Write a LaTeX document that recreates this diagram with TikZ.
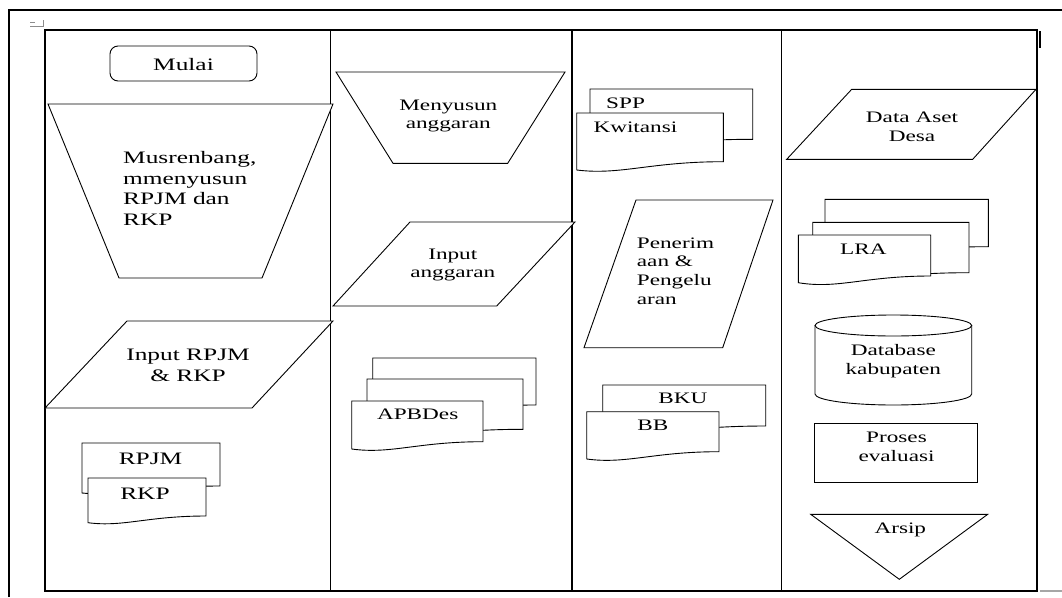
\documentclass[tikz,border=0pt]{standalone}
\usepackage{fontspec}
\setmainfont{Liberation Serif}[FakeStretch=1.45]
\newcommand\mydoc[6]{% x1 y0 x2 yR yL ymin
  \draw[shp] (#1,#2) -- (#3,#2) -- (#3,#4)
    .. controls ({#1+0.5*(#3-#1)},#4) and ({#1+0.3*(#3-#1)},{#5+2*(#6-#5)}) .. (#1,#5) -- cycle;}
\tikzset{
  shp/.style={draw=black, line width=0.9pt, fill=white, line join=miter},
  tbl/.style={draw=black, line width=1.2pt},
  frame/.style={draw=black, line width=2pt},
  lbl/.style={inner sep=0pt, font=\fontsize{16}{18.6}\selectfont, align=center},
  lblA/.style={inner sep=0pt, font=\fontsize{17.5}{20.5}\selectfont, align=center}
}
\begin{document}
\begin{tikzpicture}[x=1pt,y=-1pt]
\useasboundingbox (0,0) rectangle (1062,597);
% outer frame
\draw[frame] (9,597) -- (9,10) -- (1062,10);
\draw[frame] (1039.5,31) -- (1039.5,48);
\draw[line width=2pt, draw=black!35] (1040,591) -- (1062,591);
\draw[draw=black!45, line width=0.8pt] (30,22.5) -- (35,22.5) (43,20) -- (43,26.5) -- (30,26.5);
% table
\draw[tbl] (45,30) rectangle (1037,591);
\draw[tbl] (330.5,30) -- (330.5,591);
\draw[tbl] (572,30) -- (572,591);
\draw[tbl] (781.5,30) -- (781.5,591);

% ---- column 1
\draw[shp, rounded corners=8pt] (110,46) rectangle (257,81);
\node[lblA, anchor=base] (mulai) at (183.5,70) {Mulai};
\draw[shp] (48,104) -- (333,104) -- (262,278) -- (119,278) -- cycle;
\node[lblA, anchor=west, align=left] (musren) at (123,188.5) {Musrenbang,\\mmenyusun\\RPJM dan\\RKP};
\draw[shp] (127,321) -- (333,321) -- (252,408) -- (45,408) -- cycle;
\node[lblA] (inrpjm) at (188,365.5) {Input RPJM\\\& RKP};
\mydoc{82}{443}{220}{486}{493}{495}
\node[lblA, anchor=base] (rpjm) at (150.5,464.3) {RPJM};
\mydoc{88}{478}{206}{516}{522.7}{525}
\node[lblA, anchor=base] (rkp) at (145,499) {RKP};

% ---- column 2
\draw[shp] (336,72) -- (565,72) -- (507.7,163.3) -- (393,163.3) -- cycle;
\node[lbl] (menyusun) at (448.3,116) {Menyusun\\anggaran};
\draw[shp] (410,222) -- (575,222) -- (496.7,306) -- (333,306) -- cycle;
\node[lbl] (inangg) at (452.8,265) {Input\\anggaran};
\mydoc{372.7}{358}{536}{405}{412}{414}
\mydoc{367}{379}{523}{429.3}{436}{438}
\mydoc{351.7}{401}{483}{441.7}{449}{451.7}
\node[lbl, anchor=base] (apbdes) at (417.7,419.3) {APBDes};

% ---- column 3
\mydoc{590}{89}{752.7}{139.3}{146}{148}
\node[lbl, anchor=base west] (spp) at (606,108.3) {SPP};
\mydoc{576.7}{113}{723.3}{161.7}{170}{172.7}
\node[lbl, anchor=base west] (kwit) at (593.3,132.3) {Kwitansi};
\draw[shp] (636,200) -- (773,200) -- (722.7,347.7) -- (584,347.7) -- cycle;
\node[lbl, anchor=west, align=left] (terima) at (636.7,271) {Penerim\\aan \&\\Pengelu\\aran};
\mydoc{602.7}{385}{765.7}{426}{433}{435}
\node[lbl, anchor=base] (bku) at (682.8,403.3) {BKU};
\mydoc{586.7}{411.7}{719}{451.7}{459}{461.7}
\node[lbl, anchor=base] (bb) at (652.8,430) {BB};

% ---- column 4
\draw[shp] (851.7,89.3) -- (1036,89.3) -- (972.7,159.3) -- (786.7,159.3) -- cycle;
\node[lbl] (aset) at (912,126.5) {Data Aset\\Desa};
\mydoc{825}{199.3}{988.3}{246.7}{253}{255}
\mydoc{812.7}{222.3}{969}{272.7}{279}{281}
\mydoc{798.3}{235}{930.7}{276}{282.7}{286}
\node[lbl, anchor=base] (lra) at (863.3,254) {LRA};
% cylinder
\draw[shp] (815,325.5) -- (815,394)
  .. controls (815,400.07) and (850.08,405) .. (893.35,405)
  .. controls (936.62,405) and (971.7,400.07) .. (971.7,394)
  -- (971.7,325.5);
\draw[shp] (893.35,325.5) ellipse [x radius=78.35, y radius=10.5];
\node[lbl] (db) at (893.3,361.3) {Database\\kabupaten};
\draw[shp] (814,423.3) rectangle (977.3,482.7);
\node[lbl] (evaluasi) at (896.5,446.8) {Proses\\evaluasi};
\draw[shp] (810.7,514.3) -- (987.7,514.3) -- (899.3,579.3) -- cycle;
\node[lbl, anchor=base] (arsip) at (900.3,533.3) {Arsip};
\end{tikzpicture}
\end{document}
